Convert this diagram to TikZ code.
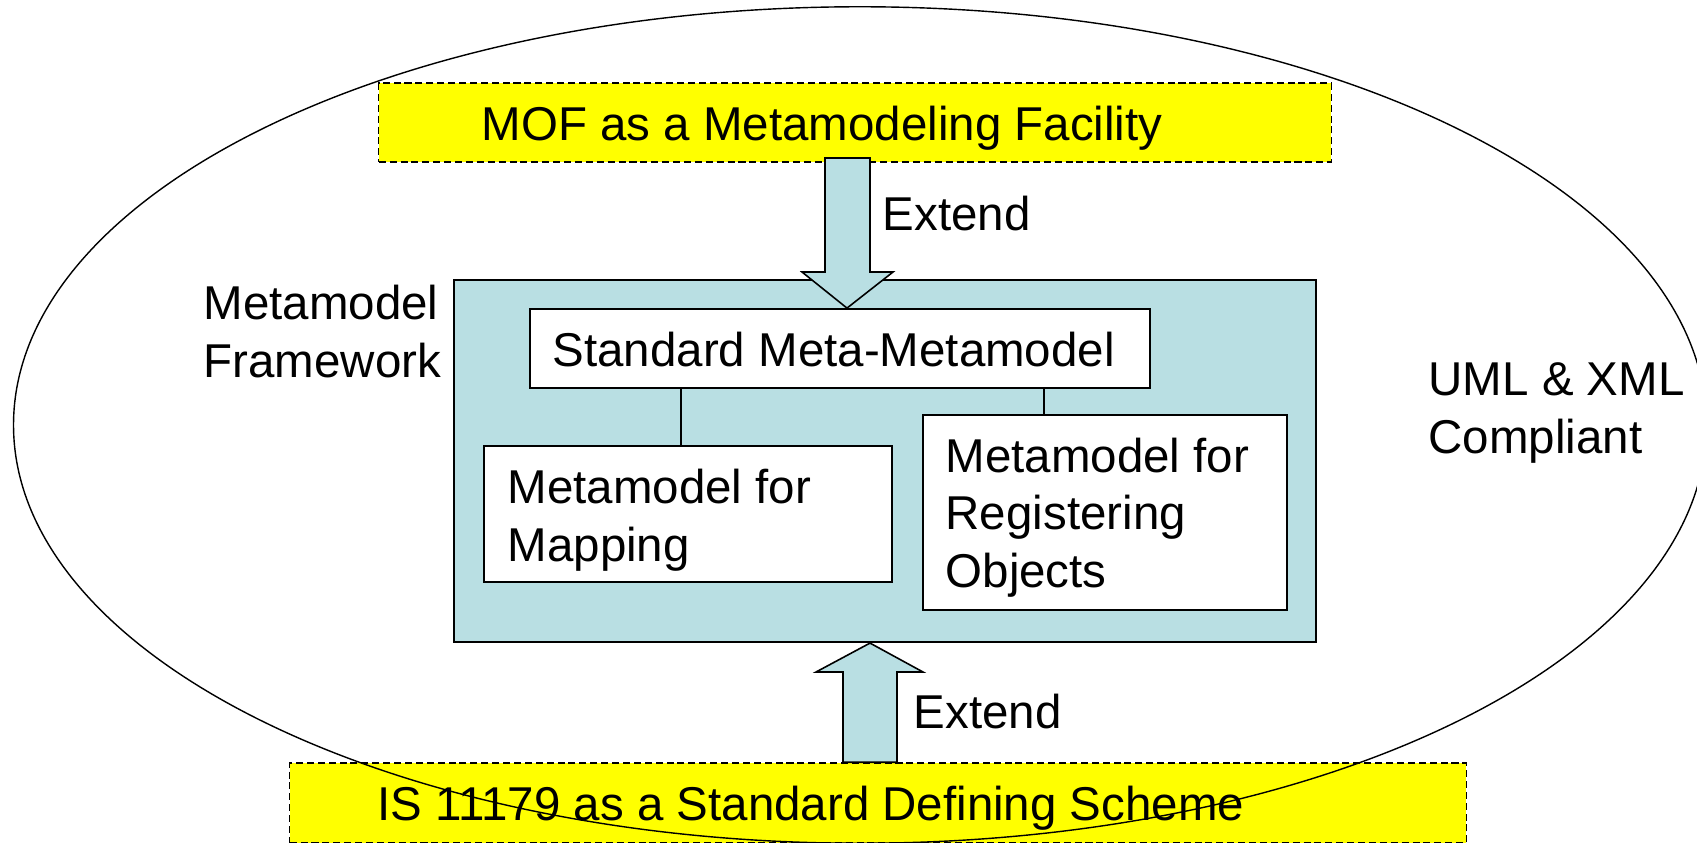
\documentclass[tikz,border=0pt]{standalone}
\usepackage{fontspec}
\setmainfont{Liberation Sans}
\definecolor{fwblue}{RGB}{185,223,227}
\definecolor{ybox}{RGB}{255,255,0}
\tikzset{
  txtfont/.style={font=\fontsize{13.5pt}{16.3pt}\selectfont},
  yellowbox/.style={draw, fill=ybox, line width=0.4pt, dash pattern=on 2pt off 1.1pt, inner sep=0pt},
  whitebox/.style={draw, fill=white, line width=0.5pt, inner sep=0pt},
  fwbox/.style={draw, fill=fwblue, line width=0.55pt, inner sep=0pt},
  blockarrow/.style={draw, fill=fwblue, line width=0.45pt, line join=miter},
  label/.style={txtfont, inner sep=0pt, align=left, anchor=base west},
  link/.style={draw, line width=0.35pt},
}
\begin{document}
\begin{tikzpicture}[x=0.01cm, y=-0.01cm]
\clip (0,0) rectangle (1697,842);
\fill[white] (0,0) rectangle (1697,842);
% top yellow box
\node[yellowbox, minimum width=9.52cm, minimum height=0.79cm] (mof) at (855,122.5) {};
\node[label] (moft) at (481,140) {MOF as a Metamodeling Facility};
% framework
\node[fwbox, minimum width=8.62cm, minimum height=3.62cm] (fw) at (885,461) {};
\node[whitebox, minimum width=6.20cm, minimum height=0.79cm] (smm) at (840,348.5) {};
\node[label] (smmt) at (552,366) {Standard Meta-Metamodel};
\node[whitebox, minimum width=4.08cm, minimum height=1.36cm] (map) at (688,514) {};
\node[label] (mapt) at (507,561) {Metamodel for\\Mapping};
\node[whitebox, minimum width=3.64cm, minimum height=1.95cm] (reg) at (1105,512.5) {};
\node[label] (regt) at (945,587) {Metamodel for\\Registering\\Objects};
\draw[link] (681,0 |- smm.south) -- (681,0 |- map.north);
\draw[link] (1044,0 |- smm.south) -- (1044,0 |- reg.north);
% top block arrow
\coordinate (t1) at (847,0 |- smm.north);
\draw[blockarrow] (825,158) -- (870,158) -- (870,272) -- (893,272) -- (t1) -- (802,272) -- (825,272) -- cycle;
% bottom yellow box
\node[yellowbox, minimum width=11.76cm, minimum height=0.80cm] (is) at (878,803) {};
\node[label] (ist) at (377,820) {IS 11179 as a Standard Defining Scheme};
% bottom block arrow
\coordinate (t2) at (870,0 |- fw.south);
\draw[blockarrow] (843,0 |- is.north) -- (843,672) -- (816,672) -- (t2) -- (923,672) -- (897,672) -- (897,0 |- is.north) -- cycle;
% labels
\node[label] (ext1) at (882,230) {Extend};
\node[label] (ext2) at (913,728) {Extend};
\node[label] (mf) at (203,377) {Metamodel\\Framework};
\node[label] (uml) at (1428,453) {UML \& XML\\Compliant};
% ellipse
\draw[line width=0.4pt] (860,425) ellipse [x radius=8.46cm, y radius=4.18cm];
\end{tikzpicture}
\end{document}
